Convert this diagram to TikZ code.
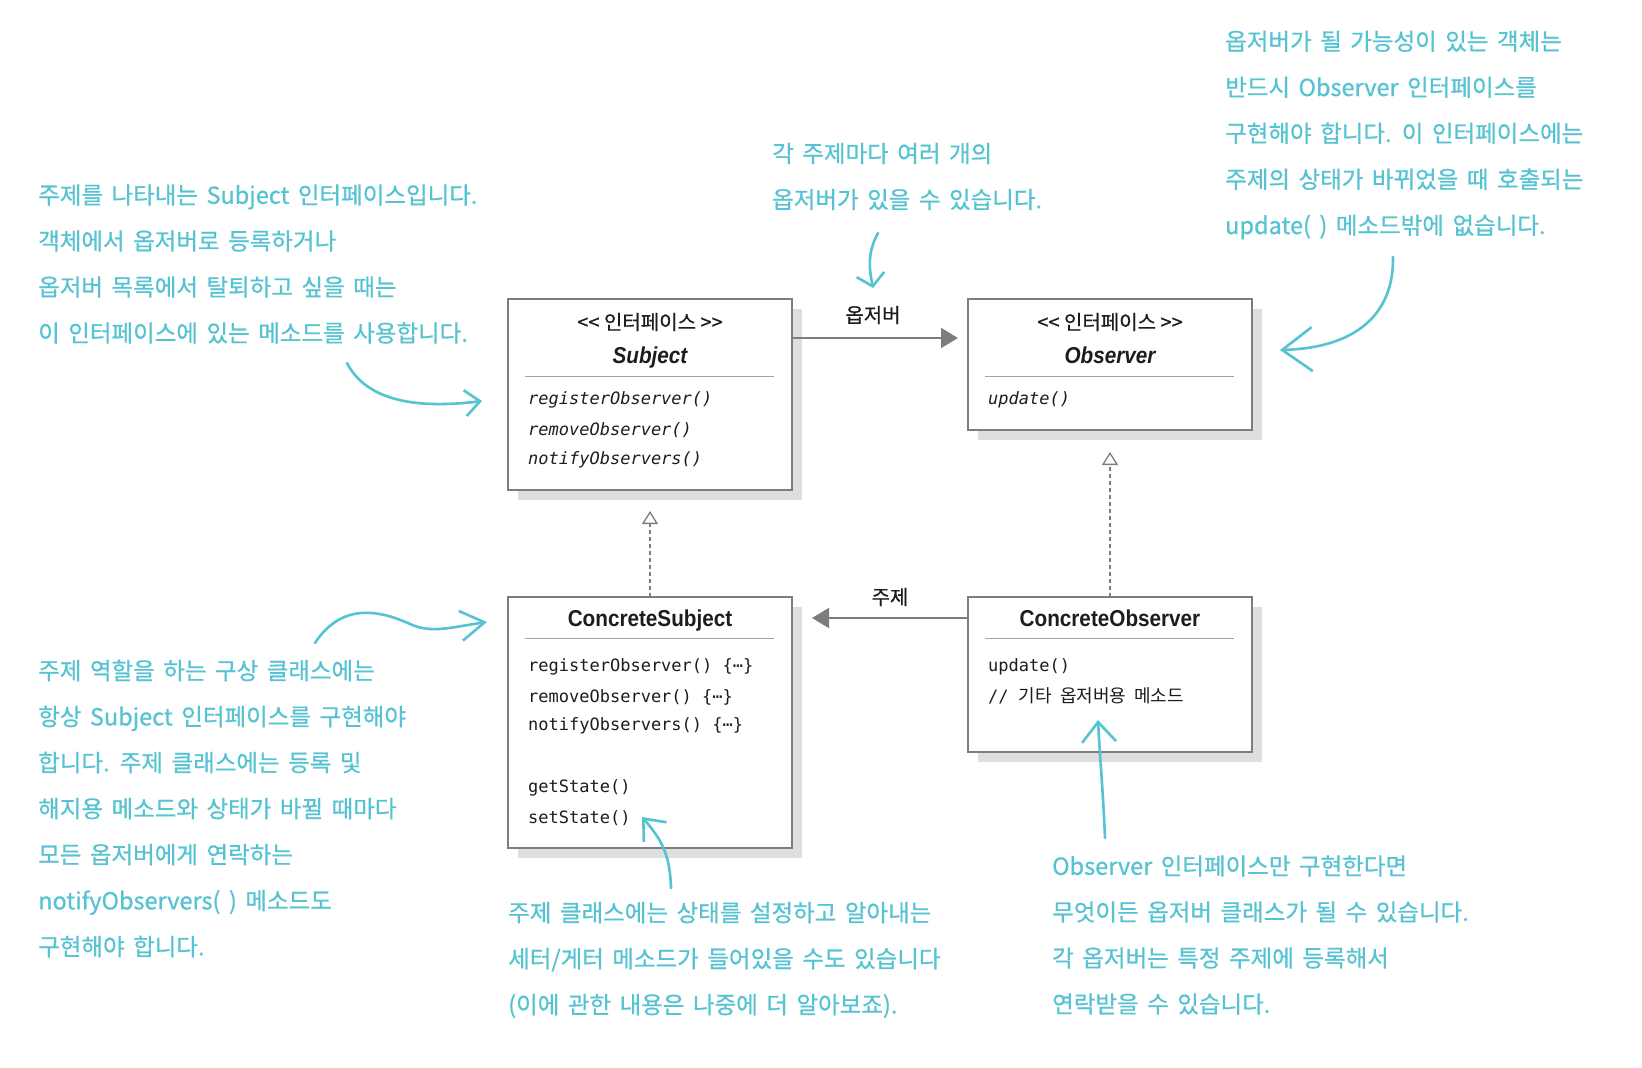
\documentclass[tikz,border=0pt]{standalone}
\usepackage{fontspec}
\usetikzlibrary{arrows.meta,shadows,calc}
\newfontfamily\krfont{Noto Sans CJK KR}
\newfontfamily\krmedfont{Noto Sans CJK KR}[FakeBold=0.6]
\newfontfamily\annkrfont{Noto Sans CJK KR}[FakeBold=0.7]
\newfontfamily\monofont{DejaVu Sans Mono}
\newfontfamily\condfont{Liberation Sans}[FakeStretch=0.9]
\newcommand\myannfont{\annkrfont\fontsize{23.5}{46}\selectfont\spaceskip=8.5pt plus 2pt\relax}
\definecolor{annot}{RGB}{86,195,210}
\definecolor{boxline}{RGB}{125,125,125}
\definecolor{shade}{RGB}{221,222,224}
\definecolor{conn}{RGB}{125,125,125}
\definecolor{ink}{RGB}{30,28,30}
\begin{document}
\begin{tikzpicture}[x=1pt,y=-1pt,
  umlbox/.style={draw=boxline, line width=1.8pt, fill=white, inner sep=0pt, outer sep=0pt,
    drop shadow={shadow xshift=10pt, shadow yshift=-10pt, fill=shade, opacity=1}},
  sepline/.style={draw=boxline!70, line width=1pt},
  stereo/.style={font=\krmedfont\fontsize{20}{24}\selectfont, text=ink, inner sep=0pt},
  ctitle/.style={font=\condfont\bfseries\fontsize{23}{26}\selectfont, text=ink, inner sep=0pt},
  meth/.style={font=\monofont\fontsize{17}{20}\selectfont, text=ink, anchor=west, inner sep=0pt},
  imeth/.style={meth, font=\monofont\itshape\fontsize{17}{20}\selectfont},
  rellabel/.style={font=\krmedfont\fontsize{20}{24}\selectfont, text=ink, inner sep=0pt},
  assoc/.style={draw=conn, line width=1.8pt, -{Triangle[length=17pt,width=20pt]}},
  realize/.style={draw=conn, line width=1.3pt, dash pattern=on 4pt off 3pt,
    -{Triangle[open,length=13pt,width=16pt,line width=1.3pt]}},
  ann/.style={font=\myannfont, text=annot, align=left, anchor=west, inner sep=0pt},
  annarrow/.style={draw=annot, line width=2.6pt, line cap=round, line join=round}
]
\useasboundingbox[fill=white] (0,0) rectangle (1642,1068);

% ---------- boxes ----------
\node[umlbox, minimum width=284pt, minimum height=191pt] (subj) at (650,394.5) {};
\node[umlbox, minimum width=284pt, minimum height=131pt] (obs) at (1110,364.5) {};
\node[umlbox, minimum width=284pt, minimum height=251pt] (csubj) at (650,722.5) {};
\node[umlbox, minimum width=284pt, minimum height=155pt] (cobs) at (1110,674.5) {};

% Subject
\node[stereo] (subjst) at (650,322) {<{}< 인터페이스 >{}>};
\node[ctitle] (subjname) at (650,357.5) {\itshape Subject};
\draw[sepline] ($(subj.north west)+(17,77)$) -- ($(subj.north east)+(-18,77)$);
\node[imeth] (subjm1) at (528,400) {registerObserver()};
\node[imeth] (subjm2) at (528,430) {removeObserver()};
\node[imeth] (subjm3) at (528,460) {notifyObservers()};

% Observer
\node[stereo] (obsst) at (1110,322) {<{}< 인터페이스 >{}>};
\node[ctitle] (obsname) at (1110,355) {\itshape Observer};
\draw[sepline] ($(obs.north west)+(17,77)$) -- ($(obs.north east)+(-18,77)$);
\node[imeth] (obsm1) at (988,400) {update()};

% ConcreteSubject
\node[ctitle] (csubjname) at (650,621) {ConcreteSubject};
\draw[sepline] ($(csubj.north west)+(17,41)$) -- ($(csubj.north east)+(-18,41)$);
\node[meth] (csm1) at (528,667) {registerObserver() \{⋯\}};
\node[meth] (csm2) at (528,697) {removeObserver() \{⋯\}};
\node[meth] (csm3) at (528,726) {notifyObservers() \{⋯\}};
\node[meth] (csm4) at (528,788) {getState()};
\node[meth] (csm5) at (528,818) {setState()};

% ConcreteObserver
\node[ctitle] (cobsname) at (1110,618) {ConcreteObserver};
\draw[sepline] ($(cobs.north west)+(17,41)$) -- ($(cobs.north east)+(-18,41)$);
\node[meth] (com1) at (988,667) {update()};
\node[meth] (com2) at (988,696) {//\ {\krfont\fontsize{18}{20}\selectfont 기타\hspace{8pt}옵저버용\hspace{8pt}메소드}};

% ---------- relations ----------
\draw[assoc, shorten >=10pt] ($(subj.north east)+(0,39)$) -- ($(obs.north west)+(0,39)$);
\node[rellabel] (lblobs) at (873,315) {옵저버};
\draw[assoc, shorten >=20pt] ($(cobs.north west)+(0,21)$) -- ($(csubj.north east)+(0,21)$);
\node[rellabel] (lblsubj) at (890,597) {주제};
\draw[realize, shorten >=21pt] (csubj.north) -- (subj.south);
\draw[realize, shorten >=22pt] (cobs.north) -- (obs.south);

% ---------- annotations ----------
\node[ann] (t1) at (38,264) {주제를 나타내는 Subject 인터페이스입니다.\\객체에서 옵저버로 등록하거나\\옵저버 목록에서 탈퇴하고 싶을 때는\\이 인터페이스에 있는 메소드를 사용합니다.};
\node[ann] (t2) at (772,176.5) {각 주제마다 여러 개의\\옵저버가 있을 수 있습니다.};
\node[ann] (t3) at (1225,135) {옵저버가 될 가능성이 있는 객체는\\반드시 Observer 인터페이스를\\구현해야 합니다. 이 인터페이스에는\\주제의 상태가 바뀌었을 때 호출되는\\update( ) 메소드밖에 없습니다.};
\node[ann] (t4) at (38,808.5) {주제 역할을 하는 구상 클래스에는\\항상 Subject 인터페이스를 구현해야\\합니다. 주제 클래스에는 등록 및\\해지용 메소드와 상태가 바뀔 때마다\\모든 옵저버에게 연락하는\\notifyObservers( ) 메소드도\\구현해야 합니다.};
\node[ann] (t5) at (508,960) {주제 클래스에는 상태를 설정하고 알아내는\\세터/게터 메소드가 들어있을 수도 있습니다\\(이에 관한 내용은 나중에 더 알아보죠).};
\node[ann] (t6) at (1052,935) {Observer 인터페이스만 구현한다면\\무엇이든 옵저버 클래스가 될 수 있습니다.\\각 옵저버는 특정 주제에 등록해서\\연락받을 수 있습니다.};

\coordinate (a1s) at (347,363); \coordinate (a1e) at (482,401);
\draw[annarrow, -{Straight Barb[length=15pt,width=26pt]}] (a1s) .. controls (365,398) and (410,410) .. (a1e);
\coordinate (a2s) at (878,233); \coordinate (a2e) at (873,288);
\draw[annarrow, -{Straight Barb[length=12pt,width=28pt]}] (a2s) .. controls (866,255) and (870,272) .. (a2e);
\coordinate (a3s) at (1393,257); \coordinate (a3e) at (1280,350);
\draw[annarrow, -{Straight Barb[length=30pt,width=44pt]}] (a3s) .. controls (1394,315) and (1355,348) .. (a3e);
\coordinate (a4s) at (315,643); \coordinate (a4m) at (410,624); \coordinate (a4e) at (487,622);
\draw[annarrow, -{Straight Barb[length=24pt,width=30pt]}] (a4s) .. controls (340,605) and (375,608) .. (a4m) .. controls (432,634) and (452,627) .. (a4e);
\coordinate (a5s) at (671,888); \coordinate (a5e) at (642,817);
\draw[annarrow, -{Straight Barb[length=18pt,width=30pt]}] (a5s) .. controls (670,855) and (662,840) .. (a5e);
\coordinate (a6s) at (1105,838); \coordinate (a6e) at (1098,720);
\draw[annarrow, -{Straight Barb[length=20pt,width=34pt]}] (a6s) .. controls (1103,790) and (1100,760) .. (a6e);
\end{tikzpicture}
\end{document}
